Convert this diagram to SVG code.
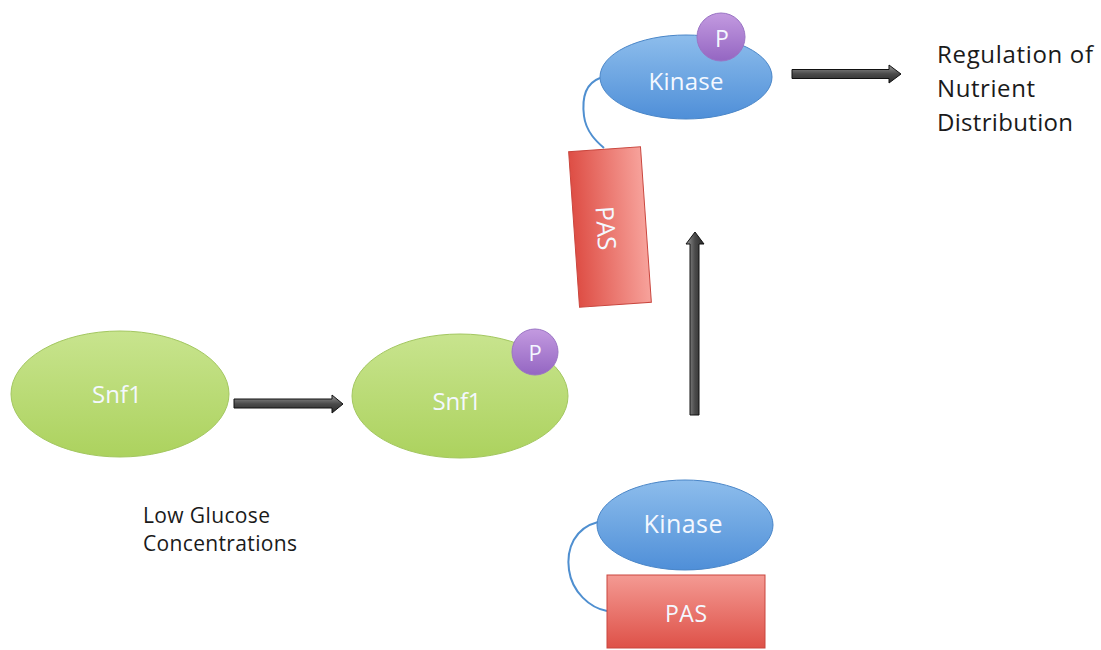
<svg xmlns="http://www.w3.org/2000/svg" width="1101" height="650" viewBox="0 0 1101 650">
  <defs>
    <linearGradient id="gGreen" x1="0" y1="0" x2="0" y2="1">
      <stop offset="0" stop-color="#c8e48e"/>
      <stop offset="1" stop-color="#acd25e"/>
    </linearGradient>
    <linearGradient id="gBlue" x1="0" y1="0" x2="0" y2="1">
      <stop offset="0" stop-color="#8dbdec"/>
      <stop offset="1" stop-color="#4f8fd8"/>
    </linearGradient>
    <linearGradient id="gRedH" x1="0" y1="0" x2="1" y2="0">
      <stop offset="0" stop-color="#de4e45"/>
      <stop offset="1" stop-color="#f7a29b"/>
    </linearGradient>
    <linearGradient id="gRedV" x1="0" y1="0" x2="0" y2="1">
      <stop offset="0" stop-color="#f49a93"/>
      <stop offset="1" stop-color="#de5148"/>
    </linearGradient>
    <linearGradient id="gPurple" x1="0" y1="0" x2="0" y2="1">
      <stop offset="0" stop-color="#c39ae0"/>
      <stop offset="1" stop-color="#9466c2"/>
    </linearGradient>
    <linearGradient id="gArrowH" x1="0" y1="0" x2="0" y2="1">
      <stop offset="0" stop-color="#9a9a9a"/>
      <stop offset="0.5" stop-color="#4a4a4a"/>
      <stop offset="1" stop-color="#2a2a2a"/>
    </linearGradient>
    <linearGradient id="gArrowV" x1="0" y1="0" x2="1" y2="0">
      <stop offset="0" stop-color="#9a9a9a"/>
      <stop offset="0.5" stop-color="#4a4a4a"/>
      <stop offset="1" stop-color="#2a2a2a"/>
    </linearGradient>
  </defs>
  <style>
    .snf { fill: url(#gGreen); stroke: #a3c760; stroke-width: 1; }
    .kin { fill: url(#gBlue); stroke: #4a86c8; stroke-width: 1; }
    .pho { fill: url(#gPurple); stroke: #9a74c4; stroke-width: 1; }
    .lbl { font-family: "Open Sans", "Liberation Sans", sans-serif; fill: #f4f8ff; text-anchor: middle; }
    .txt { font-family: "Open Sans", "Liberation Sans", sans-serif; fill: #1a1a1a; }
    .link { fill: none; stroke: #4f8fd0; stroke-width: 2; }
    .arrH { fill: url(#gArrowH); stroke: #111; stroke-width: 1; stroke-linejoin: miter; }
    .arrV { fill: url(#gArrowV); stroke: #111; stroke-width: 1; stroke-linejoin: miter; }
  </style>
  <rect width="1101" height="650" fill="#ffffff"/>

  <g id="connectors">
    <path class="arrH" d="M234,399 L332,399 L332,395 L343,404 L332,413 L332,408 L234,408 Z"/>
    <path class="arrV" d="M690,415 L690,244 L686,244 L695,232 L704,244 L699,244 L699,415 Z"/>
    <path class="arrH" d="M792,69.5 L889,69.5 L889,65 L901,74 L889,83 L889,78.5 L792,78.5 Z"/>
    <path class="link" d="M600,78 C584,84 582,100 584,116 C586,132 597,142 604,148"/>
    <path class="link" d="M598,522 C575,528 566,548 569,570 C572,592 590,608 607,611"/>
  </g>

  <g id="snf1-inactive">
    <ellipse class="snf" cx="120" cy="394" rx="109" ry="63"/>
    <text class="lbl" x="117" y="403" font-size="24" textLength="50">Snf1</text>
  </g>

  <g id="snf1-active">
    <ellipse class="snf" cx="460" cy="396" rx="108" ry="62"/>
    <text class="lbl" x="457" y="410" font-size="24" textLength="49">Snf1</text>
    <circle class="pho" cx="535" cy="352" r="23"/>
    <text class="lbl" x="535" y="361" font-size="22">P</text>
  </g>

  <g id="kinase-pas-inactive">
    <rect x="607" y="575" width="158" height="73" fill="url(#gRedV)" stroke="#c9463e" stroke-width="1"/>
    <text class="lbl" x="686" y="622" font-size="23" textLength="42">PAS</text>
    <ellipse class="kin" cx="685" cy="525" rx="88" ry="45"/>
    <text class="lbl" x="683" y="533" font-size="25" textLength="79">Kinase</text>
  </g>

  <g id="pas-active">
    <g transform="translate(610,227) rotate(-4)">
      <rect x="-36" y="-78" width="72" height="156" fill="url(#gRedH)" stroke="#c9463e" stroke-width="1"/>
    </g>
    <text class="lbl" transform="translate(606,228) rotate(86)" x="0" y="9" font-size="25" textLength="44">PAS</text>
  </g>

  <g id="kinase-active">
    <ellipse class="kin" cx="686" cy="77" rx="86" ry="42"/>
    <text class="lbl" x="686" y="90" font-size="24" textLength="75">Kinase</text>
    <circle class="pho" cx="721" cy="37" r="24"/>
    <text class="lbl" x="722" y="47" font-size="23">P</text>
  </g>

  <g id="label-glucose">
    <text class="txt" x="143" y="523" font-size="21" textLength="127">Low Glucose</text>
    <text class="txt" x="143" y="551" font-size="21" textLength="154">Concentrations</text>
  </g>

  <g id="label-regulation">
    <text class="txt" x="937" y="63" font-size="24" textLength="156">Regulation of</text>
    <text class="txt" x="937" y="97" font-size="24" textLength="98">Nutrient</text>
    <text class="txt" x="937" y="131" font-size="24" textLength="136">Distribution</text>
  </g>
</svg>
